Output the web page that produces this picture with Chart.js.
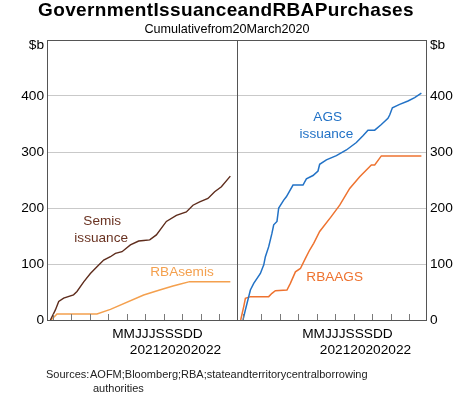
<!DOCTYPE html>
<html>
<head>
<meta charset="utf-8">
<script src="https://cdn.jsdelivr.net/npm/chart.js@4"></script>
<style>
  html, body { margin: 0; padding: 0; background: #fff; }
  #wrap { position: relative; width: 474px; height: 397px; }
  canvas { display: block; }
</style>
</head>
<body>
<div id="wrap"><canvas id="c" width="474" height="397"></canvas></div>
<script>
// ---- Data (x = months since 1 March 2020, y = $b cumulative) ----
const semisX = [0.65, 1.46, 2.0, 2.8, 4.4, 4.96, 6.05, 7.13, 8.2, 9.29, 10.38, 11.19, 12.26, 13.62, 14.96, 15.77, 16.75, 17.83, 19.45, 21.07, 22.69, 23.76, 24.85, 26.19, 27.28, 28.37, 29.82];
const semisY = [0, 18, 33, 39, 45, 51, 68, 83, 95, 107, 113, 119, 122, 134, 141, 142, 143, 152, 176, 187, 193, 205, 211, 217, 229, 238, 257];

const rbaSemisX = [0.75, 1.72, 2.16, 8.2, 10.38, 15.77, 18.36, 20.52, 21.6, 23.23, 29.82];
const rbaSemisY = [0, 10.7, 10.7, 10.7, 19, 44.6, 53.6, 60.7, 64, 68.5, 68.5];

const agsX = [1.07, 1.46, 2.27, 2.81, 3.89, 4.31, 4.43, 4.7, 5.24, 5.77, 6.05, 6.58, 6.86, 7.67, 8.1, 9.18, 10.8, 11.35, 12.42, 13.23, 13.5, 14.59, 16.21, 17.83, 19.45, 20.52, 21.33, 22.42, 23.5, 24.57, 24.85, 25.29, 26.47, 27.82, 28.9, 29.99];
const agsY = [0, 18, 53.6, 65.5, 83, 95, 98, 113, 131, 155, 170, 176, 200, 214, 220, 241, 241, 252, 258, 266, 278, 286, 293.5, 303.6, 317, 329, 339, 339, 349, 360, 366, 379, 385, 391, 397, 405];

const rbaAgsX = [0.7, 1.19, 1.46, 2.27, 5.24, 5.77, 6.32, 8.2, 8.75, 9.57, 10.38, 11.19, 11.88, 12.53, 13.5, 15.4, 16.75, 18.37, 19.99, 21.88, 22.42, 23.5, 29.99];
const rbaAgsY = [0, 24, 38.7, 41.7, 41.7, 47.6, 52.4, 53.6, 65.5, 86, 92, 110, 125, 137, 158, 185, 205, 235, 256, 277, 277, 293, 293];

// Tick marks (months since 1 Mar 2020) and axis labels
const xTickMonths = [1, 4, 7, 10, 13, 16, 19, 22, 25, 28];
const monthLabelText = "MMJJJSSSDD";
const yearLabelText = "202120202022";
const yTickValues = [0, 100, 200, 300, 400, 500];
const yTopLabel = "$b";

const titleText = "GovernmentIssuanceandRBAPurchases";
const subtitleText = "Cumulativefrom20March2020";
const sourcesHead = "Sources:";
const sourcesLine1 = "AOFM;Bloomberg;RBA;stateandterritorycentralborrowing";
const sourcesLine2 = "authorities";

// Series labels: [text, panel, month, value, colour]
const seriesLabels = [
  ["Semis", 0, 9.05, 177, "#6a3322"],
  ["issuance", 0, 8.88, 146, "#6a3322"],
  ["RBAsemis", 0, 21.98, 86, "#f4a04e"],
  ["AGS", 1, 14.8, 362, "#2272c6"],
  ["issuance", 1, 14.59, 331, "#2272c6"],
  ["RBAAGS", 1, 15.93, 77, "#ee7330"]
];

// ---- Layout helpers ----
const XMIN = 0.1;     // left edge of each panel (months)
const SPAN = 30.8;    // months shown in each panel
const FONT = '"Liberation Sans", Arial, Helvetica, sans-serif';

function pts(xs, ys, panel) {
  return xs.map((x, i) => ({ x: x + panel * SPAN, y: ys[i] }));
}

const COL_SEMIS = "#5e2c1c";
const COL_RBASEMIS = "#f4a04e";
const COL_AGS = "#2272c6";
const COL_RBAAGS = "#ee7330";

const decor = {
  id: 'decor',
  afterDraw(chart) {
    const ctx = chart.ctx;
    const a = chart.chartArea;
    const xs = chart.scales.x;
    const ys = chart.scales.y;
    ctx.save();

    // Tick marks (inside, from bottom)
    ctx.strokeStyle = "#7a7a7a";
    ctx.lineWidth = 1;
    for (let p = 0; p < 2; p++) {
      xTickMonths.forEach(m => {
        const px = Math.round(xs.getPixelForValue(m + p * SPAN)) + 0.5;
        ctx.beginPath();
        ctx.moveTo(px, a.bottom);
        ctx.lineTo(px, a.bottom - 6);
        ctx.stroke();
      });
    }

    // Frame and panel divider
    ctx.strokeStyle = "#555555";
    ctx.lineWidth = 1;
    const L = Math.round(a.left) + 0.5, R = Math.round(a.right) - 0.5;
    const T = Math.round(a.top) + 0.5, B = Math.round(a.bottom) + 0.5;
    ctx.strokeRect(L, T, R - L, B - T);
    const mid = Math.round(xs.getPixelForValue(XMIN + SPAN)) + 0.5;
    ctx.beginPath();
    ctx.moveTo(mid, T);
    ctx.lineTo(mid, B);
    ctx.stroke();

    // "$b" unit labels at the top of both value axes
    ctx.fillStyle = "#000";
    ctx.font = "13.7px " + FONT;
    ctx.textBaseline = "middle";
    ctx.textAlign = "right";
    ctx.fillText(yTopLabel, a.left - 3, a.top + 5);
    ctx.textAlign = "left";
    ctx.fillText(yTopLabel, a.right + 3, a.top + 5);

    // Series labels
    ctx.textAlign = "center";
    ctx.textBaseline = "middle";
    ctx.font = "13.6px " + FONT;
    seriesLabels.forEach(([t, p, m, v, c]) => {
      ctx.fillStyle = c;
      ctx.fillText(t, xs.getPixelForValue(m + p * SPAN), ys.getPixelForValue(v));
    });

    // X axis labels (bottom)
    ctx.fillStyle = "#000";
    ctx.textBaseline = "alphabetic";
    ctx.font = "13.7px " + FONT;
    for (let p = 0; p < 2; p++) {
      ctx.fillText(monthLabelText, xs.getPixelForValue(18.0 + p * SPAN), a.bottom + 18);
      ctx.fillText(yearLabelText, xs.getPixelForValue(20.93 + p * SPAN), a.bottom + 34);
    }

    // Title and subtitle
    ctx.font = "bold 19px " + FONT;
    try { ctx.letterSpacing = "0.35px"; } catch (e) {}
    ctx.fillText(titleText, 226, 16);
    try { ctx.letterSpacing = "0px"; } catch (e) {}
    ctx.font = "12.6px " + FONT;
    ctx.fillText(subtitleText, 227, 33);

    // Sources
    ctx.textAlign = "left";
    ctx.fillStyle = "#222";
    ctx.font = "11px " + FONT;
    ctx.fillText(sourcesHead, 46, 378);
    ctx.fillText(sourcesLine1, 90, 378);
    ctx.fillText(sourcesLine2, 93, 392);

    ctx.restore();
  }
};

const lineDs = (label, data, color, w) => ({
  label, data, borderColor: color, backgroundColor: color,
  borderWidth: w, pointRadius: 0, tension: 0, fill: false, yAxisID: 'y'
});

new Chart(document.getElementById('c'), {
  type: 'line',
  data: {
    datasets: [
      lineDs('Semis issuance', pts(semisX, semisY, 0), COL_SEMIS, 1.4),
      lineDs('RBA semis', pts(rbaSemisX, rbaSemisY, 0), COL_RBASEMIS, 1.5),
      lineDs('AGS issuance', pts(agsX, agsY, 1), COL_AGS, 1.5),
      lineDs('RBA AGS', pts(rbaAgsX, rbaAgsY, 1), COL_RBAAGS, 1.5)
    ]
  },
  options: {
    responsive: false,
    animation: false,
    devicePixelRatio: 1,
    layout: { padding: { top: 40, bottom: 77, left: 0, right: 0 } },
    plugins: { legend: { display: false }, tooltip: { enabled: false }, title: { display: false } },
    scales: {
      x: {
        type: 'linear',
        min: XMIN,
        max: XMIN + 2 * SPAN,
        display: false
      },
      y: {
        position: 'left',
        min: 0, max: 500,
        afterBuildTicks: s => { s.ticks = yTickValues.map(v => ({ value: v })); },
        afterFit: s => { s.width = 47; },
        border: { display: false },
        grid: {
          drawTicks: false,
          color: c => (c.tick && (c.tick.value === 0 || c.tick.value === 500)) ? 'rgba(0,0,0,0)' : '#c9c9c9',
          lineWidth: 1
        },
        ticks: {
          padding: 3,
          color: '#000',
          font: { family: FONT, size: 13.7 },
          callback: v => v === 500 ? '' : String(v)
        }
      },
      y2: {
        position: 'right',
        min: 0, max: 500,
        afterBuildTicks: s => { s.ticks = yTickValues.map(v => ({ value: v })); },
        afterFit: s => { s.width = 47; },
        border: { display: false },
        grid: { display: false, drawTicks: false },
        ticks: {
          padding: 3,
          color: '#000',
          font: { family: FONT, size: 13.7 },
          callback: v => v === 500 ? '' : String(v)
        }
      }
    }
  },
  plugins: [decor]
});
</script>
</body>
</html>
